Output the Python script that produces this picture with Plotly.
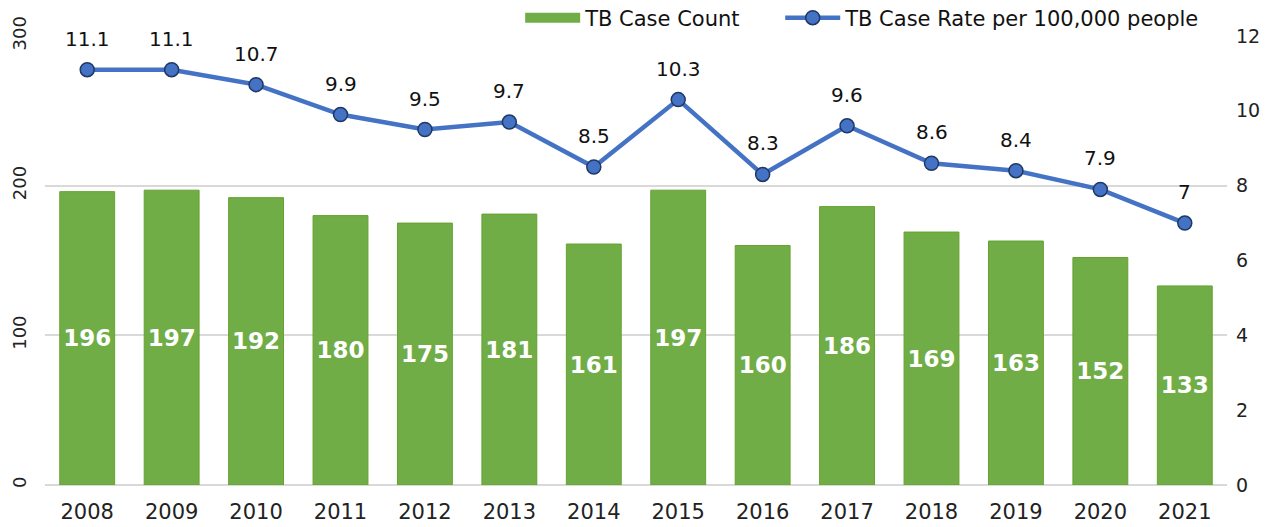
import plotly.graph_objects as go

years = ["2008", "2009", "2010", "2011", "2012", "2013", "2014", "2015", "2016", "2017", "2018", "2019", "2020", "2021"]
case_count = [196, 197, 192, 180, 175, 181, 161, 197, 160, 186, 169, 163, 152, 133]
case_rate = [11.1, 11.1, 10.7, 9.9, 9.5, 9.7, 8.5, 10.3, 8.3, 9.6, 8.6, 8.4, 7.9, 7]

FONT = "DejaVu Sans"
GREEN = "#70AD47"
BLUE = "#4472C4"

fig = go.Figure()
fig.add_trace(go.Bar(
    x=years, y=case_count, name="TB Case Count", showlegend=False,
    marker=dict(color=GREEN, line=dict(color="#66A22E", width=1)),
    text=[str(v) for v in case_count], textposition="inside", insidetextanchor="middle",
    textfont=dict(family=FONT, size=23, color="white", weight="bold"),
    textangle=0, yaxis="y",
))
# legend proxy for the bar series (wide rectangle swatch)
fig.add_trace(go.Scatter(
    x=[years[0]], y=[None], name="TB Case Count", mode="lines",
    line=dict(color=GREEN, width=13), yaxis="y", legend="legend",
))
fig.add_trace(go.Scatter(
    x=years, y=case_rate, name="TB Case Rate per 100,000 people",
    mode="lines+markers",
    line=dict(color=BLUE, width=4.5),
    marker=dict(size=14, color=BLUE, line=dict(color="#1F3864", width=1.5)),
    yaxis="y2", cliponaxis=False, legend="legend2",
))

# value labels above the line points (category index positions)
for i, v in enumerate(case_rate):
    fig.add_annotation(x=i, y=v, xref="x", yref="y2", text=f"{v:g}", showarrow=False,
                       yshift=31, font=dict(family=FONT, size=20, color="#111111"))

W, H = 1263, 519
legend_common = dict(orientation="h", xref="paper", xanchor="left",
                     yref="container", y=1 - 10 / H, yanchor="middle",
                     font=dict(family=FONT, size=21, color="#111111"),
                     itemwidth=55, bgcolor="rgba(0,0,0,0)")
fig.update_layout(
    width=W, height=H,
    margin=dict(l=37, r=44, t=28, b=42, autoexpand=False),
    paper_bgcolor="white", plot_bgcolor="white",
    font=dict(family=FONT, size=18, color="#222222"),
    bargap=0.35,
    showlegend=True,
    legend=dict(x=0.402, **legend_common),
    legend2=dict(x=0.622, **legend_common),
    xaxis=dict(type="category", range=[-0.5, len(years) - 0.5], showgrid=False,
               showline=False, ticks="", tickfont=dict(size=21), ticklabelstandoff=12,
               automargin=False),
    yaxis=dict(range=[0, 300], tickvals=[0, 100, 200, 300], showgrid=True,
               gridcolor="#D9D9D9", gridwidth=1.5, zeroline=True, zerolinecolor="#D9D9D9",
               zerolinewidth=1.5, tickangle=-90, tickfont=dict(size=18), ticks="",
               ticklabelstandoff=14, showline=False, automargin=False),
    yaxis2=dict(range=[0, 12], tickvals=[0, 2, 4, 6, 8, 10, 12], overlaying="y",
                side="right", showgrid=False, zeroline=False, tickfont=dict(size=19),
                ticks="", ticklabelstandoff=8, showline=False, automargin=False),
)

fig.write_html("out.html")
